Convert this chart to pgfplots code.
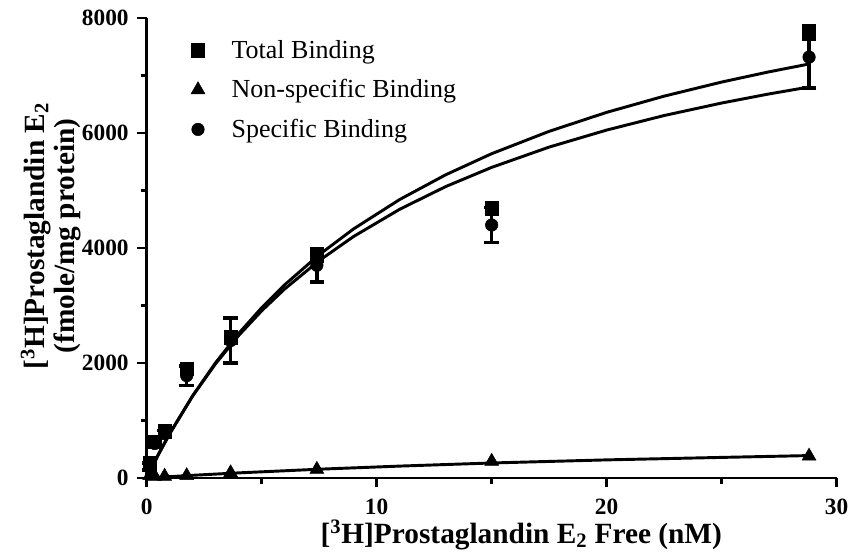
\documentclass[border=0pt]{standalone}
\usepackage{fontspec}
\setmainfont{Liberation Serif}
\usepackage{pgfplots}
\pgfplotsset{compat=1.18}

\begin{document}
\begin{tikzpicture}
\begin{axis}[
    scale only axis,
    width=517.5pt, height=345pt,
    xmin=0, xmax=30, ymin=0, ymax=8000,
    axis lines=left,
    axis line style={-, line width=2.2pt},
    xtick={0,10,20,30}, ytick={0,2000,4000,6000,8000},
    minor x tick num=1, minor y tick num=1,
    tick align=outside,
    major tick length=7pt, minor tick length=4.5pt,
    every tick/.style={black, line width=2.2pt},
    /pgf/number format/assume math mode=true,
    scaled y ticks=false,
    yticklabel style={/pgf/number format/1000 sep={}, xshift=-3pt},
    xticklabel style={yshift=-5pt},
    ticklabel style={font=\bfseries\fontsize{17.5}{17.5}\selectfont},
    clip=false,
    xlabel={[\textsuperscript{3}H]Prostaglandin E\textsubscript{2} Free (nM)},
    ylabel={[\textsuperscript{3}H]Prostaglandin E\textsubscript{2}\\(fmole/mg protein)},
    label style={font=\bfseries\fontsize{22}{22.5}\selectfont},
    xlabel style={at={(axis description cs:0.543,-0.124)}, anchor=center},
    ylabel style={at={(axis description cs:-0.139,0.526)}, anchor=center, align=center},
    legend style={at={(axis description cs:0.064,0.958)}, anchor=north west,
        draw=none, fill=none, font=\fontsize{19.5}{22}\selectfont,
        row sep=10.5pt, column sep=18pt, inner sep=0pt},
    legend cell align=left,
]
% fitted curves
\addplot[black, line width=2.2pt, forget plot] coordinates {
(0,0) (0.5,400) (1,769) (2,1431) (3,2007) (4,2513) (5,2961) (6,3360)
(7.5,3883) (9,4333) (11,4843) (13,5273) (15,5640) (17.5,6029) (20,6359)
(22.5,6641) (25,6886) (27,7059) (28.8,7200)};
\addplot[black, line width=2.2pt, forget plot] coordinates {
(0,0) (0.5,402) (1,771) (2,1426) (3,1989) (4,2478) (5,2907) (6,3287)
(7.5,3780) (9,4201) (11,4673) (13,5068) (15,5402) (17.5,5755) (20,6051)
(22.5,6304) (25,6521) (27,6675) (28.8,6800)};
\addplot[black, line width=2.2pt, forget plot] coordinates {
(0,0) (2,47) (4,89) (7.5,153) (11,207) (15,261) (20,315) (25,358) (28.8,390)};
% total binding
\addplot[only marks, mark=square*, mark size=5pt, black] coordinates {
(0.13,270) (0.35,630) (0.78,810) (1.74,1900) (3.65,2450) (7.4,3860) (15,4690) (28.8,7730)};
% non-specific binding
\addplot[only marks, mark=triangle*, mark size=6pt, black] coordinates {
(0.13,40) (0.35,30) (0.78,30) (1.74,40) (3.65,90) (7.4,150) (15,290) (28.8,380)};
% specific binding
\addplot[only marks, mark=*, mark size=4.7pt, black,
    error bars/.cd, y dir=both, y explicit,
    error bar style={line width=2.6pt},
    error mark options={rotate=90, mark size=5.5pt, line width=2.6pt}]
    coordinates {
(0.13,200) +- (0,60) (0.35,600) +- (0,60) (0.78,770) +- (0,60)
(1.74,1780) +- (0,170) (3.65,2390) +- (0,390) (7.4,3700) +- (0,290)
(15,4400) +- (0,300) (28.8,7320) +- (0,540)};
\legend{Total Binding, Non-specific Binding, Specific Binding}
\coordinate (o) at (rel axis cs:0,0);
\end{axis}
\pgfresetboundingbox
\path (o) ++(-110pt,-58.5pt) rectangle ++(640.5pt,417pt);
\end{tikzpicture}
\end{document}
